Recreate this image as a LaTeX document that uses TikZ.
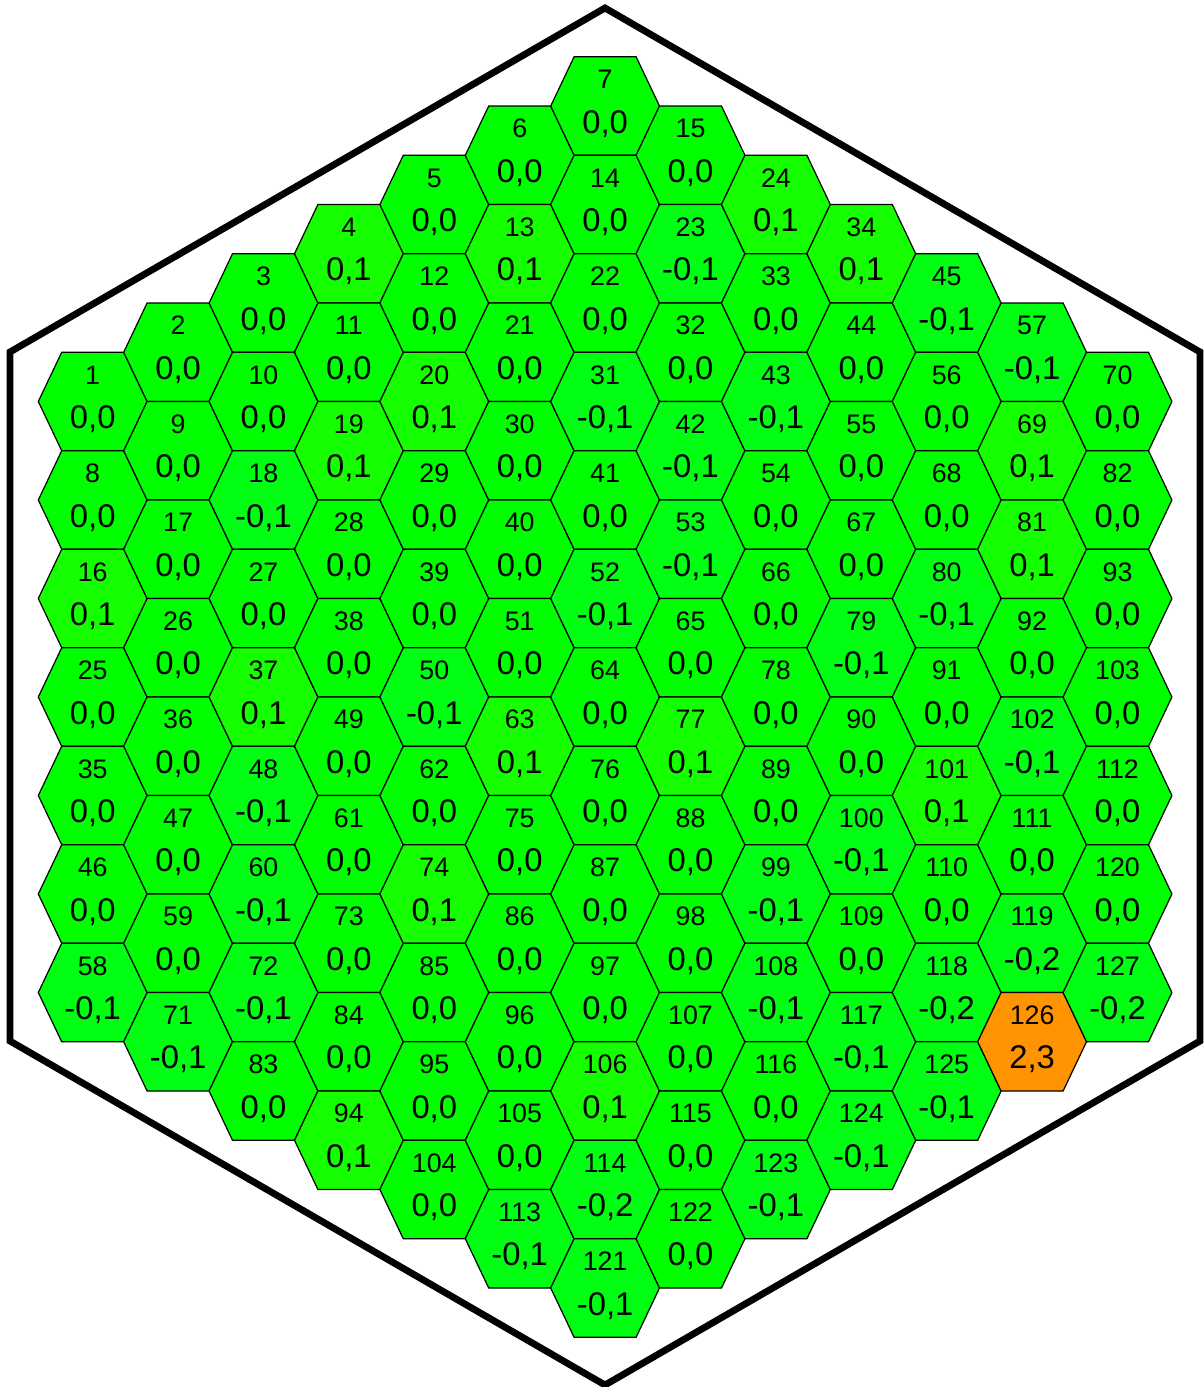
\documentclass[tikz,border=0pt]{standalone}
\usepackage{fontspec}
\setmainfont{Liberation Sans}
\usetikzlibrary{positioning}

\definecolor{cpos}{RGB}{22,255,0}
\definecolor{czero}{RGB}{0,255,0}
\definecolor{cneg}{RGB}{0,255,18}
\definecolor{chot}{RGB}{255,147,0}

\tikzset{
  outerhex/.style={draw=black, line width=3.4pt, line join=miter},
  hexline/.style={draw=black, line width=0.6pt},
  nrtext/.style={font=\fontsize{13.4}{16}\selectfont, anchor=base, inner sep=0pt},
  valtext/.style={font=\fontsize{16.4}{19}\selectfont, anchor=base, inner sep=0pt},
  pics/hexcell/.style n args={3}{code={
    \filldraw[hexline, fill=#3] (-54.4,0) -- (-31,-49.25) -- (31,-49.25)
      -- (54.4,0) -- (31,49.25) -- (-31,49.25) -- cycle;
    \node[nrtext] (-nr) at (0,-17.3) {#1};
    \node[valtext] (-val) at (0,27) {#2};
  }}
}

\begin{document}
\begin{tikzpicture}[x=0.5pt, y=-0.5pt]
\useasboundingbox (0,0) rectangle (1204,1387);

% Core outline
\draw[outerhex] (605,8) -- (1200,352) -- (1200,1041) -- (605,1385)
  -- (10,1041) -- (10,352) -- cycle;

% Column 1
\foreach \nr/\vl/\fc [count=\j from 0] in {1/{0,0}/czero, 8/{0,0}/czero,
    16/{0,1}/cpos, 25/{0,0}/czero, 35/{0,0}/czero, 46/{0,0}/czero, 58/{-0,1}/cneg}
  \pic (c\nr) at (92.7, 401.5+98.5*\j) {hexcell={\nr}{\vl}{\fc}};

% Column 2
\foreach \nr/\vl/\fc [count=\j from 0] in {2/{0,0}/czero, 9/{0,0}/czero,
    17/{0,0}/czero, 26/{0,0}/czero, 36/{0,0}/czero, 47/{0,0}/czero, 59/{0,0}/czero,
    71/{-0,1}/cneg}
  \pic (c\nr) at (178.1, 352.25+98.5*\j) {hexcell={\nr}{\vl}{\fc}};

% Column 3
\foreach \nr/\vl/\fc [count=\j from 0] in {3/{0,0}/czero, 10/{0,0}/czero,
    18/{-0,1}/cneg, 27/{0,0}/czero, 37/{0,1}/cpos, 48/{-0,1}/cneg, 60/{-0,1}/cneg,
    72/{-0,1}/cneg, 83/{0,0}/czero}
  \pic (c\nr) at (263.5, 303+98.5*\j) {hexcell={\nr}{\vl}{\fc}};

% Column 4
\foreach \nr/\vl/\fc [count=\j from 0] in {4/{0,1}/cpos, 11/{0,0}/czero,
    19/{0,1}/cpos, 28/{0,0}/czero, 38/{0,0}/czero, 49/{0,0}/czero, 61/{0,0}/czero,
    73/{0,0}/czero, 84/{0,0}/czero, 94/{0,1}/cpos}
  \pic (c\nr) at (348.9, 253.75+98.5*\j) {hexcell={\nr}{\vl}{\fc}};

% Column 5
\foreach \nr/\vl/\fc [count=\j from 0] in {5/{0,0}/czero, 12/{0,0}/czero,
    20/{0,1}/cpos, 29/{0,0}/czero, 39/{0,0}/czero, 50/{-0,1}/cneg, 62/{0,0}/czero,
    74/{0,1}/cpos, 85/{0,0}/czero, 95/{0,0}/czero, 104/{0,0}/czero}
  \pic (c\nr) at (434.3, 204.5+98.5*\j) {hexcell={\nr}{\vl}{\fc}};

% Column 6
\foreach \nr/\vl/\fc [count=\j from 0] in {6/{0,0}/czero, 13/{0,1}/cpos,
    21/{0,0}/czero, 30/{0,0}/czero, 40/{0,0}/czero, 51/{0,0}/czero, 63/{0,1}/cpos,
    75/{0,0}/czero, 86/{0,0}/czero, 96/{0,0}/czero, 105/{0,0}/czero, 113/{-0,1}/cneg}
  \pic (c\nr) at (519.7, 155.25+98.5*\j) {hexcell={\nr}{\vl}{\fc}};

% Column 7 (centre)
\foreach \nr/\vl/\fc [count=\j from 0] in {7/{0,0}/czero, 14/{0,0}/czero,
    22/{0,0}/czero, 31/{-0,1}/cneg, 41/{0,0}/czero, 52/{-0,1}/cneg, 64/{0,0}/czero,
    76/{0,0}/czero, 87/{0,0}/czero, 97/{0,0}/czero, 106/{0,1}/cpos, 114/{-0,2}/cneg,
    121/{-0,1}/cneg}
  \pic (c\nr) at (605.1, 106+98.5*\j) {hexcell={\nr}{\vl}{\fc}};

% Column 8
\foreach \nr/\vl/\fc [count=\j from 0] in {15/{0,0}/czero, 23/{-0,1}/cneg,
    32/{0,0}/czero, 42/{-0,1}/cneg, 53/{-0,1}/cneg, 65/{0,0}/czero, 77/{0,1}/cpos,
    88/{0,0}/czero, 98/{0,0}/czero, 107/{0,0}/czero, 115/{0,0}/czero, 122/{0,0}/czero}
  \pic (c\nr) at (690.5, 155.25+98.5*\j) {hexcell={\nr}{\vl}{\fc}};

% Column 9
\foreach \nr/\vl/\fc [count=\j from 0] in {24/{0,1}/cpos, 33/{0,0}/czero,
    43/{-0,1}/cneg, 54/{0,0}/czero, 66/{0,0}/czero, 78/{0,0}/czero, 89/{0,0}/czero,
    99/{-0,1}/cneg, 108/{-0,1}/cneg, 116/{0,0}/czero, 123/{-0,1}/cneg}
  \pic (c\nr) at (775.9, 204.5+98.5*\j) {hexcell={\nr}{\vl}{\fc}};

% Column 10
\foreach \nr/\vl/\fc [count=\j from 0] in {34/{0,1}/cpos, 44/{0,0}/czero,
    55/{0,0}/czero, 67/{0,0}/czero, 79/{-0,1}/cneg, 90/{0,0}/czero, 100/{-0,1}/cneg,
    109/{0,0}/czero, 117/{-0,1}/cneg, 124/{-0,1}/cneg}
  \pic (c\nr) at (861.3, 253.75+98.5*\j) {hexcell={\nr}{\vl}{\fc}};

% Column 11
\foreach \nr/\vl/\fc [count=\j from 0] in {45/{-0,1}/cneg, 56/{0,0}/czero,
    68/{0,0}/czero, 80/{-0,1}/cneg, 91/{0,0}/czero, 101/{0,1}/cpos, 110/{0,0}/czero,
    118/{-0,2}/cneg, 125/{-0,1}/cneg}
  \pic (c\nr) at (946.7, 303+98.5*\j) {hexcell={\nr}{\vl}{\fc}};

% Column 12
\foreach \nr/\vl/\fc [count=\j from 0] in {57/{-0,1}/cneg, 69/{0,1}/cpos,
    81/{0,1}/cpos, 92/{0,0}/czero, 102/{-0,1}/cneg, 111/{0,0}/czero, 119/{-0,2}/cneg,
    126/{2,3}/chot}
  \pic (c\nr) at (1032.1, 352.25+98.5*\j) {hexcell={\nr}{\vl}{\fc}};

% Column 13
\foreach \nr/\vl/\fc [count=\j from 0] in {70/{0,0}/czero, 82/{0,0}/czero,
    93/{0,0}/czero, 103/{0,0}/czero, 112/{0,0}/czero, 120/{0,0}/czero, 127/{-0,2}/cneg}
  \pic (c\nr) at (1117.5, 401.5+98.5*\j) {hexcell={\nr}{\vl}{\fc}};
\end{tikzpicture}
\end{document}
